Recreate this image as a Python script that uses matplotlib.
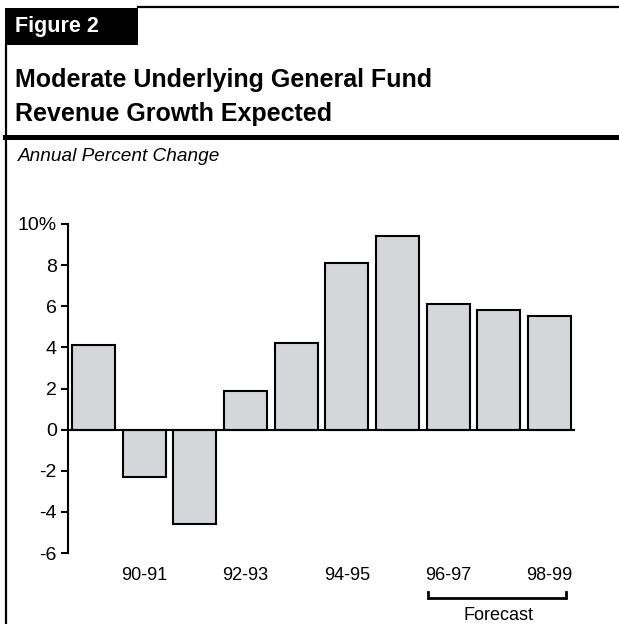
import matplotlib
matplotlib.use('Agg')
import matplotlib.pyplot as plt
from matplotlib.patches import Rectangle
from matplotlib.lines import Line2D
import matplotlib.transforms as mtransforms

plt.rcParams['font.family'] = ['Liberation Sans', 'DejaVu Sans']

years = ['89-90', '90-91', '91-92', '92-93', '93-94',
         '94-95', '95-96', '96-97', '97-98', '98-99']
growth = [4.1, -2.3, -4.6, 1.9, 4.2, 8.1, 9.4, 6.1, 5.8, 5.55]
yticks = [-6, -4, -2, 0, 2, 4, 6, 8, 10]
ytick_labels = ['-6', '-4', '-2', '0', '2', '4', '6', '8', '10%']

W, H = 619, 624
fig = plt.figure(figsize=(W / 100, H / 100), dpi=100)

def fx(px):
    return px / W

def fy(py):
    return 1 - py / H

# frame: black label box, top line, left line, title rule
fig.patches.append(Rectangle((fx(5), fy(45)), fx(133), 37 / H, transform=fig.transFigure,
                             facecolor='black', edgecolor='none'))
fig.lines.append(Line2D([fx(138), 1], [fy(7), fy(7)], transform=fig.transFigure, color='black', lw=1.6))
fig.lines.append(Line2D([fx(6), fx(6)], [fy(45), 0], transform=fig.transFigure, color='black', lw=1.6))
fig.lines.append(Line2D([fx(5), 1], [fy(136.5), fy(136.5)], transform=fig.transFigure, color='black', lw=3.6))

fig.text(fx(15), fy(32), 'Figure 2', color='white', fontsize=15.5, fontweight='bold', va='baseline')
fig.text(fx(15), fy(87), 'Moderate Underlying General Fund', fontsize=18, fontweight='bold', va='baseline')
fig.text(fx(15), fy(121), 'Revenue Growth Expected', fontsize=18, fontweight='bold', va='baseline')
fig.text(fx(18), fy(161), 'Annual Percent Change', fontsize=13.7, style='italic', va='baseline')

ax = fig.add_axes([fx(68), fy(553), fx(507), 329 / H])
x = list(range(len(years)))
ax.bar(x, growth, width=0.85, color='#d4d6da', edgecolor='black', linewidth=1.5, zorder=2)
ax.axhline(0, color='black', lw=1.5, zorder=3)

ax.set_xlim(-0.5, 9.5)
ax.set_ylim(-6, 10)
for s in ['top', 'right', 'bottom']:
    ax.spines[s].set_visible(False)
ax.spines['left'].set_linewidth(1.5)
ax.set_yticks(yticks)
ax.set_yticklabels(ytick_labels, fontsize=14)
ax.tick_params(axis='y', length=5, width=1.5, pad=3)
ax.set_xticks(x[1::2])
ax.set_xticklabels(years[1::2], fontsize=13)
ax.tick_params(axis='x', length=0, pad=10)

# forecast bracket under the last three years
trans = mtransforms.blended_transform_factory(ax.transData, ax.transAxes)
ax.plot([6.6, 6.6, 9.32, 9.32], [-0.119, -0.137, -0.137, -0.119], transform=trans,
        color='black', lw=2, clip_on=False, solid_joinstyle='miter')
ax.text(8.0, -0.19, 'Forecast', transform=trans, ha='center', va='center', fontsize=13)

fig.savefig('out.png', dpi=100)
